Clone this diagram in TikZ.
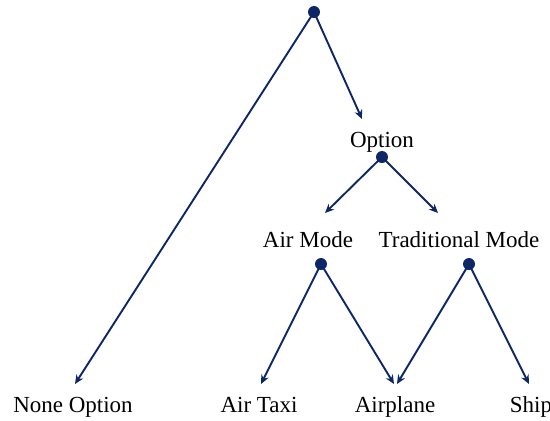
\documentclass[tikz,border=0pt]{standalone}
\usepackage{fontspec}
\setmainfont{Liberation Serif}
\usetikzlibrary{arrows.meta}
\definecolor{navy}{RGB}{12,38,102}
\tikzset{
  dot/.style={circle,fill=navy,draw=none,inner sep=0pt,minimum size=12pt},
  lbl/.style={anchor=base,inner sep=0pt,font=\fontsize{23}{27}\selectfont},
  edge/.style={draw=navy,line width=1.9pt,-{Stealth[length=9pt,width=8pt]}}
}
\begin{document}
\begin{tikzpicture}[x=1pt,y=-1pt]
\useasboundingbox (0,0) rectangle (550,421);
% branch points
\node[dot] (root) at (314,12) {};
\node[dot] (opt) at (382,157) {};
\node[dot] (air) at (321,264) {};
\node[dot] (trad) at (469,264) {};
% labels
\node[lbl] (optL) at (382,147) {Option};
\node[lbl] (airL) at (308,247) {Air Mode};
\node[lbl] (tradL) at (459,247) {Traditional Mode};
\node[lbl] (none) at (73,412) {None Option};
\node[lbl] (taxi) at (259,412) {Air Taxi};
\node[lbl] (plane) at (395,412) {Airplane};
\node[lbl] (ship) at (531,412) {Ship};
% arrow ends
\coordinate (eOpt) at (362,119);
\coordinate (eNone) at (75,384);
\coordinate (eAirM) at (325,213);
\coordinate (eTrad) at (438,213);
\coordinate (eTaxi) at (261,384);
\coordinate (ePlaneA) at (394,384);
\coordinate (ePlaneT) at (397,384);
\coordinate (eShip) at (529,384);
% connectors
\draw[edge] (root.center) -- (eOpt);
\draw[edge] (root.center) -- (eNone);
\draw[edge] (opt.center) -- (eAirM);
\draw[edge] (opt.center) -- (eTrad);
\draw[edge] (air.center) -- (eTaxi);
\draw[edge] (air.center) -- (ePlaneA);
\draw[edge] (trad.center) -- (ePlaneT);
\draw[edge] (trad.center) -- (eShip);
\end{tikzpicture}
\end{document}
